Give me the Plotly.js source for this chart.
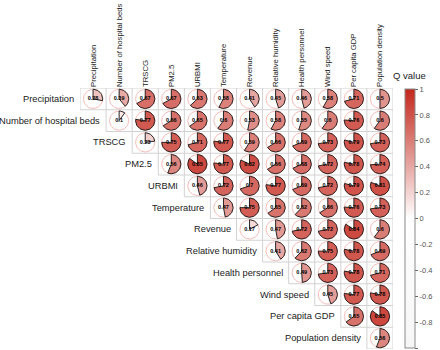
<!DOCTYPE html>
<html>
<head>
<meta charset="utf-8">
<script src="https://cdn.plot.ly/plotly-3.0.1.min.js"></script>
<style>html,body{margin:0;padding:0;background:#fff;}#chart{width:440px;height:350px;}</style>
</head>
<body>
<div id="chart"></div>
<script>
// Variable names (rows and columns)
const variables = ["Precipitation", "Number of hospital beds", "TRSCG", "PM2.5", "URBMI", "Temperature",
  "Revenue", "Relative humidity", "Health personnel", "Wind speed", "Per capita GDP", "Population density"];

// Upper-triangle Q values: row i holds columns i..11
const qPrecipitation = [0.28, 0.39, 0.67, 0.67, 0.63, 0.58, 0.41, 0.45, 0.46, 0.58, 0.71, 0.5];
const qHospitalBeds = [0.1, 0.77, 0.66, 0.65, 0.6, 0.53, 0.58, 0.55, 0.6, 0.76, 0.6];
const qTRSCG = [0.23, 0.75, 0.71, 0.77, 0.59, 0.66, 0.69, 0.73, 0.79, 0.73];
const qPM25 = [0.56, 0.85, 0.77, 0.82, 0.66, 0.68, 0.72, 0.78, 0.74];
const qURBMI = [0.46, 0.72, 0.7, 0.77, 0.69, 0.72, 0.79, 0.81];
const qTemperature = [0.47, 0.75, 0.65, 0.62, 0.66, 0.76, 0.73];
const qRevenue = [0.17, 0.47, 0.72, 0.72, 0.84, 0.6];
const qHumidity = [0.41, 0.62, 0.75, 0.78, 0.69];
const qHealth = [0.49, 0.73, 0.78, 0.71];
const qWind = [0.45, 0.77, 0.78];
const qGDP = [0.65, 0.85];
const qDensity = [0.56];

const qRows = [qPrecipitation, qHospitalBeds, qTRSCG, qPM25, qURBMI, qTemperature,
  qRevenue, qHumidity, qHealth, qWind, qGDP, qDensity];

// Colour bar ticks
const cbTickVals = [1, 0.8, 0.6, 0.4, 0.2, 0, -0.2, -0.4, -0.6, -0.8, -1];
const cbTickText = ["1", "0.8", "0.6", "0.4", "0.2", "0", "-0.2", "-0.4", "-0.6", "-0.8", "-1"];

const colorscale = [[0, '#f6f6f6'], [0.5, '#ffffff'], [1, '#c3271c']];

function hexToRgb(h) { return [parseInt(h.substr(1,2),16), parseInt(h.substr(3,2),16), parseInt(h.substr(5,2),16)]; }
function colorFor(v) {
  const t = (v + 1) / 2;
  for (let k = 1; k < colorscale.length; k++) {
    if (t <= colorscale[k][0]) {
      const a = colorscale[k-1], b = colorscale[k];
      const f = (t - a[0]) / (b[0] - a[0]);
      const ca = hexToRgb(a[1]), cb = hexToRgb(b[1]);
      const c = ca.map((x, i) => Math.round(x + (cb[i] - x) * f));
      return 'rgb(' + c.join(',') + ')';
    }
  }
  return colorscale[colorscale.length-1][1];
}

const n = variables.length;
const plotW = 440 - 80 - 47, plotH = 350 - 88 - 1;
const rPx = 9.6;
const rx = rPx / (plotW / n), ry = rPx / (plotH / n);

const traces = [];

// Grid lines
const gx = [], gy = [];
for (let i = 0; i <= n; i++) {
  // horizontal line at y = i - 0.5, spanning columns max(i-1,0)..n-1
  const startCol = Math.max(i - 1, 0);
  gx.push(startCol - 0.5, n - 0.5, null);
  gy.push(i - 0.5, i - 0.5, null);
}
for (let j = 0; j <= n; j++) {
  const endRow = Math.min(j, n - 1);
  gx.push(j - 0.5, j - 0.5, null);
  gy.push(-0.5, endRow + 0.5, null);
}
traces.push({type: 'scatter', mode: 'lines', x: gx, y: gy, line: {color: '#d2d2d2', width: 1}, hoverinfo: 'skip'});

// Faint full circles
const cx = [], cy = [];
for (let i = 0; i < n; i++) {
  for (let j = i; j < n; j++) {
    for (let s = 0; s <= 72; s++) {
      const th = 2 * Math.PI * s / 72;
      cx.push(j + rx * Math.sin(th));
      cy.push(i - ry * Math.cos(th));
    }
    cx.push(null); cy.push(null);
  }
}
traces.push({type: 'scatter', mode: 'lines', x: cx, y: cy, line: {color: '#f2a9a4', width: 0.8}, hoverinfo: 'skip'});

// Pie sectors
const tx = [], ty = [], tt = [];
for (let i = 0; i < n; i++) {
  qRows[i].forEach((v, k) => {
    const j = i + k;
    const px = [j], py = [i];
    const steps = Math.max(2, Math.ceil(72 * Math.abs(v)));
    for (let s = 0; s <= steps; s++) {
      const th = 2 * Math.PI * v * s / steps;
      px.push(j + rx * Math.sin(th));
      py.push(i - ry * Math.cos(th));
    }
    px.push(j); py.push(i);
    traces.push({type: 'scatter', mode: 'lines', x: px, y: py, fill: 'toself',
      fillcolor: colorFor(v), line: {color: '#111111', width: 0.9}, hoverinfo: 'skip'});
    tx.push(j); ty.push(i); tt.push(String(v));
  });
}

// Value labels
traces.push({type: 'scatter', mode: 'text', x: tx, y: ty, text: tt,
  textfont: {family: 'Liberation Sans, Arial, sans-serif', size: 5.5, color: '#000', weight: 'bold'},
  hoverinfo: 'skip'});

// Colour bar carrier
traces.push({type: 'scatter', mode: 'markers', x: [0], y: [n - 1], hoverinfo: 'skip',
  marker: {size: 1, opacity: 0, color: [0], cmin: -1, cmax: 1, colorscale: colorscale, showscale: true,
    colorbar: {x: 1 + 12 / plotW, xanchor: 'left', xpad: 0, ypad: 0, y: 1 - 1 / plotH, yanchor: 'top',
      len: 259, lenmode: 'pixels', thickness: 10, thicknessmode: 'pixels',
      outlinewidth: 1, outlinecolor: '#8a8a8a', ticks: 'outside', ticklen: 3, tickcolor: '#666',
      tickvals: cbTickVals, ticktext: cbTickText,
      tickfont: {family: 'Liberation Sans, Arial, sans-serif', size: 7.5, color: '#555'}}}});

// Row labels
const annotations = variables.map((name, i) => ({
  x: i - 0.5, y: i, xref: 'x', yref: 'y', text: name, showarrow: false,
  xanchor: 'right', yanchor: 'middle', xshift: -4,
  font: {family: 'Liberation Sans, Arial, sans-serif', size: 9.3, color: '#222'}
}));
annotations.push({x: (391 - 80) / plotW, y: 1 + 13 / plotH, xref: 'paper', yref: 'paper', text: 'Q value',
  showarrow: false, xanchor: 'left', yanchor: 'middle',
  font: {family: 'Liberation Sans, Arial, sans-serif', size: 9.5, color: '#222'}});

const layout = {
  width: 440, height: 350,
  margin: {l: 80, r: 47, t: 88, b: 1, pad: 0},
  paper_bgcolor: '#fff', plot_bgcolor: '#fff',
  showlegend: false,
  xaxis: {range: [-0.5, n - 0.5], side: 'top', tickmode: 'array', tickvals: variables.map((_, i) => i),
    ticktext: variables, tickangle: -90, showgrid: false, zeroline: false, showline: false, ticks: '',
    tickfont: {family: 'Liberation Sans, Arial, sans-serif', size: 7.7, color: '#222'}, fixedrange: true},
  yaxis: {range: [n - 0.5, -0.5], visible: false, showgrid: false, zeroline: false, fixedrange: true},
  annotations: annotations
};

Plotly.newPlot('chart', traces, layout, {displayModeBar: false, staticPlot: true});
</script>
</body>
</html>
